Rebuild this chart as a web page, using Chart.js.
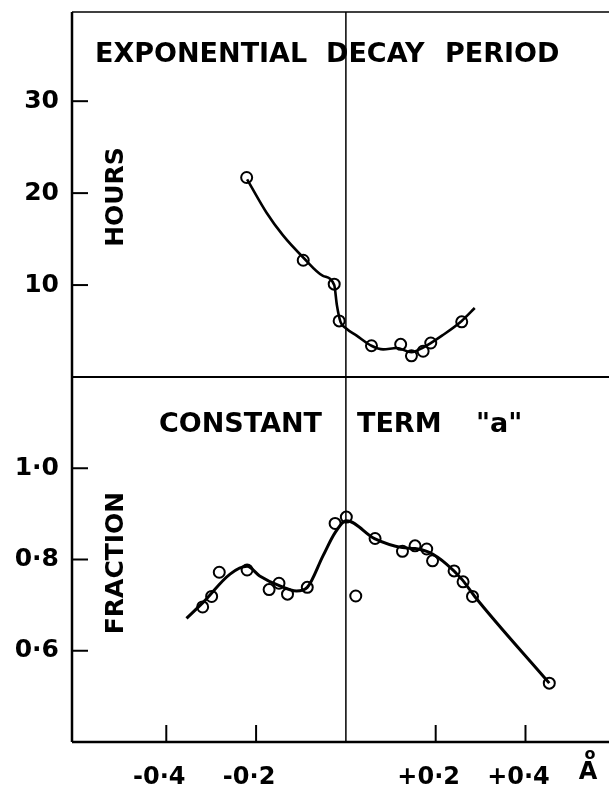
<!DOCTYPE html>
<html>
<head>
<meta charset="utf-8">
<script src="https://cdn.jsdelivr.net/npm/chart.js@4.4.0/dist/chart.umd.min.js"></script>
<style>
  html, body { margin: 0; padding: 0; background: #fff; }
</style>
</head>
<body>
<canvas id="chart" width="609" height="787"></canvas>
<script>
// x axis (Å)
const xTickValues = [-0.4, -0.2, 0.2, 0.4];
const xTickLabels = ['-0\u00b74', '-0\u00b72', '+0\u00b72', '+0\u00b74'];

// top panel: exponential decay period (hours)
const hourTicks = [10, 20, 30];
const hourTickLabels = ['10', '20', '30'];
const decayX = [-0.221, -0.095, -0.026, -0.015, 0.057, 0.122, 0.146, 0.172, 0.189, 0.258];
const decayHours = [21.7, 12.7, 10.1, 6.1, 3.4, 3.55, 2.3, 2.8, 3.7, 6.0];
const decayCurveX = [-0.220, -0.177, -0.140, -0.095, -0.051, -0.026, -0.020, -0.012, 0.000, 0.024, 0.057, 0.083, 0.113, 0.146, 0.172, 0.217, 0.258, 0.287];
const decayCurveHours = [21.5, 17.9, 15.4, 13.0, 11.0, 10.0, 7.8, 6.0, 5.3, 4.5, 3.4, 3.0, 3.15, 2.7, 3.2, 4.6, 6.1, 7.5];

// bottom panel: constant term "a" (fraction)
const fracTicks = [0.6, 0.8, 1.0];
const fracTickLabels = ['0\u00b76', '0\u00b78', '1\u00b70'];
const fracX = [-0.319, -0.299, -0.282, -0.220, -0.171, -0.149, -0.130, -0.086, -0.024, 0.001, 0.022, 0.065, 0.126, 0.154, 0.180, 0.193, 0.241, 0.261, 0.282, 0.453];
const fracVals = [0.696, 0.719, 0.772, 0.777, 0.734, 0.748, 0.724, 0.739, 0.879, 0.893, 0.720, 0.846, 0.818, 0.830, 0.823, 0.797, 0.775, 0.751, 0.719, 0.529];
const fracCurveX = [-0.355, -0.318, -0.258, -0.220, -0.192, -0.147, -0.110, -0.086, -0.051, -0.024, 0.001, 0.065, 0.126, 0.154, 0.187, 0.224, 0.258, 0.287, 0.453];
const fracCurveVals = [0.671, 0.706, 0.768, 0.785, 0.764, 0.742, 0.731, 0.739, 0.808, 0.859, 0.885, 0.845, 0.826, 0.824, 0.815, 0.790, 0.757, 0.719, 0.529];

const toPoints = (xs, ys) => xs.map((x, i) => ({ x: x, y: ys[i] }));

const FONT = 'DejaVu Sans';
Chart.defaults.font.family = FONT;
Chart.defaults.color = '#000';

// no extra padding around the scales
function noPadding(s) {
    s.paddingTop = 0;
    s.paddingBottom = 0;
    s.paddingLeft = 0;
    s.paddingRight = 0;
}

// frame, inward ticks and panel texts
const framePlugin = {
    id: 'frame',
    beforeDatasetsDraw(chart) {
        const { ctx, chartArea: a, scales } = chart;
        const line = (x1, y1, x2, y2, w) => {
            ctx.lineWidth = w;
            ctx.beginPath();
            ctx.moveTo(x1, y1);
            ctx.lineTo(x2, y2);
            ctx.stroke();
        };
        ctx.save();
        ctx.strokeStyle = '#000';
        const mid = scales.yTop.bottom;
        line(a.left, a.top, a.right, a.top, 1.5);
        line(a.left, mid, a.right, mid, 2);
        line(a.left, a.bottom, a.right, a.bottom, 2.5);
        line(a.left, a.top, a.left, a.bottom, 2.5);
        const x0 = scales.x.getPixelForValue(0);
        line(x0, a.top, x0, a.bottom, 1.5);

        xTickValues.forEach(v => {
            const px = scales.x.getPixelForValue(v);
            line(px, a.bottom, px, a.bottom - 17, 2);
        });
        hourTicks.forEach(v => {
            const py = scales.yTop.getPixelForValue(v);
            line(a.left, py, a.left + 16, py, 2);
        });
        fracTicks.forEach(v => {
            const py = scales.yBot.getPixelForValue(v);
            line(a.left, py, a.left + 16, py, 2);
        });
        ctx.restore();
    },
    afterDraw(chart) {
        const { ctx } = chart;
        ctx.save();
        ctx.fillStyle = '#000';
        ctx.textBaseline = 'middle';
        ctx.textAlign = 'left';
        ctx.font = `bold 27px ${FONT}`;
        ctx.fillText('EXPONENTIAL', 95, 55);
        ctx.fillText('DECAY', 326, 55);
        ctx.fillText('PERIOD', 445, 55);
        ctx.fillText('CONSTANT', 159, 425);
        ctx.fillText('TERM', 357, 425);
        ctx.fillText('"a"', 476, 425);

        // rotated axis titles
        ctx.font = `bold 25px ${FONT}`;
        ctx.textAlign = 'center';
        [['HOURS', 116, 197], ['FRACTION', 116, 563]].forEach(([t, x, y]) => {
            ctx.save();
            ctx.translate(x, y);
            ctx.rotate(-Math.PI / 2);
            ctx.fillText(t, 0, 0);
            ctx.restore();
        });

        // unit Å
        ctx.font = `bold 24px ${FONT}`;
        ctx.fillText('A', 588, 773);
        ctx.font = `bold 16px ${FONT}`;
        ctx.fillText('o', 590, 755);
        ctx.restore();
    }
};

new Chart(document.getElementById('chart'), {
    type: 'scatter',
    data: {
        datasets: [
            {
                label: 'decay curve',
                data: toPoints(decayCurveX, decayCurveHours),
                yAxisID: 'yTop',
                showLine: true,
                borderColor: '#000',
                borderWidth: 2.6,
                pointRadius: 0,
                cubicInterpolationMode: 'monotone'
            },
            {
                label: 'decay period',
                data: toPoints(decayX, decayHours),
                yAxisID: 'yTop',
                borderColor: '#000',
                backgroundColor: 'transparent',
                pointRadius: 5.5,
                pointBorderWidth: 2
            },
            {
                label: 'constant curve',
                data: toPoints(fracCurveX, fracCurveVals),
                yAxisID: 'yBot',
                showLine: true,
                borderColor: '#000',
                borderWidth: 3,
                pointRadius: 0,
                cubicInterpolationMode: 'monotone'
            },
            {
                label: 'constant term',
                data: toPoints(fracX, fracVals),
                yAxisID: 'yBot',
                borderColor: '#000',
                backgroundColor: 'transparent',
                pointRadius: 5.5,
                pointBorderWidth: 2
            }
        ]
    },
    options: {
        responsive: false,
        animation: false,
        events: [],
        layout: { autoPadding: false, padding: { top: 12, right: 0, left: 0, bottom: 0 } },
        plugins: {
            legend: { display: false },
            tooltip: { enabled: false }
        },
        scales: {
            x: {
                type: 'linear',
                min: -0.61,
                max: 0.586,
                grid: { display: false, drawTicks: false },
                border: { display: false },
                afterBuildTicks: s => { s.ticks = xTickValues.map(v => ({ value: v })); },
                afterFit: s => { s.height = 45; noPadding(s); },
                ticks: {
                    autoSkip: false,
                    maxRotation: 0,
                    padding: 21,
                    labelOffset: -7,
                    font: { size: 24, weight: 'bold' },
                    callback: (v, i) => xTickLabels[i]
                }
            },
            yBot: {
                type: 'linear',
                position: 'left',
                stack: 'panels',
                stackWeight: 1,
                min: 0.4,
                max: 1.2,
                grid: { display: false, drawTicks: false },
                border: { display: false },
                afterBuildTicks: s => { s.ticks = fracTicks.map(v => ({ value: v })); },
                afterFit: s => { s.width = 72; noPadding(s); },
                ticks: {
                    padding: 13,
                    font: { size: 25, weight: 'bold' },
                    callback: (v, i) => fracTickLabels[i]
                }
            },
            yTop: {
                type: 'linear',
                position: 'left',
                stack: 'panels',
                stackWeight: 1,
                min: 0,
                max: 39.7,
                grid: { display: false, drawTicks: false },
                border: { display: false },
                afterBuildTicks: s => { s.ticks = hourTicks.map(v => ({ value: v })); },
                afterFit: s => { s.width = 72; noPadding(s); },
                ticks: {
                    padding: 13,
                    font: { size: 25, weight: 'bold' },
                    callback: (v, i) => hourTickLabels[i]
                }
            }
        }
    },
    plugins: [framePlugin]
});
</script>
</body>
</html>
